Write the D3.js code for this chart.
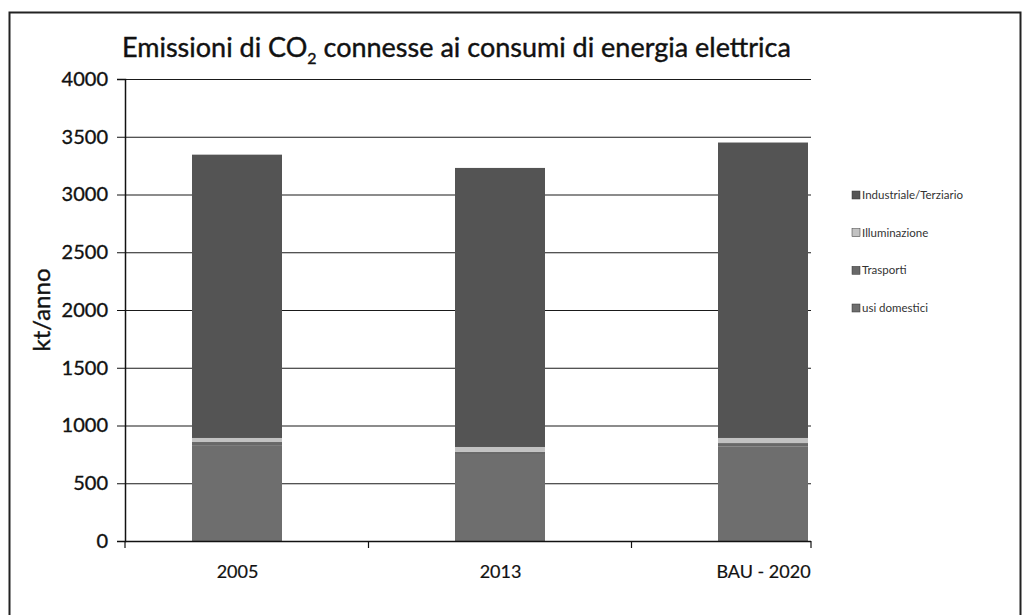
<!DOCTYPE html>
<html><head><meta charset="utf-8">
<script src="https://cdn.jsdelivr.net/npm/d3@7"></script>
<style>body{margin:0;background:#fff;}svg{display:block;}</style>
</head><body>
<svg id="c" width="1024" height="615"></svg>
<script>
const categories = ["2005", "2013", "BAU - 2020"];
const seriesNames = ["usi domestici", "Trasporti", "Illuminazione", "Industriale/Terziario"];
const usiDomestici = [830, 745, 820];
const trasporti = [27, 26, 28];
const illuminazione = [35, 43, 44];
const industrialeTerziario = [2453, 2416, 2558];
const yTicks = [0, 500, 1000, 1500, 2000, 2500, 3000, 3500, 4000];
const legendOrder = ["Industriale/Terziario", "Illuminazione", "Trasporti", "usi domestici"];
const colors = {"usi domestici":"#6e6e6e","Trasporti":"#686868","Illuminazione":"#c2c2c2","Industriale/Terziario":"#545454"};

const rows = categories.map((c,i)=>({cat:c,"usi domestici":usiDomestici[i],"Trasporti":trasporti[i],"Illuminazione":illuminazione[i],"Industriale/Terziario":industrialeTerziario[i]}));
const stack = d3.stack().keys(seriesNames)(rows);

const svg = d3.select("#c");
const font = "Lato, 'Open Sans', sans-serif";
const thick = (sel, w) => sel.attr("stroke","#111").attr("stroke-width",w || 0.45).attr("paint-order","stroke");

// outer frame
svg.append("rect").attr("x",9.5).attr("y",12.5).attr("width",1011).attr("height",620)
  .attr("fill","none").attr("stroke","#222").attr("stroke-width",2);

const y = d3.scaleLinear().domain([0,4000]).range([541,79]);
const x = d3.scalePoint().domain(categories).range([237,763]);
const barW = 90;
const plotL = 125, plotR = 811;

// gridlines
svg.append("g").selectAll("line").data(yTicks).join("line")
  .attr("x1",plotL).attr("x2",plotR).attr("y1",d=>y(d)+0.5).attr("y2",d=>y(d)+0.5)
  .attr("stroke","#1a1a1a").attr("stroke-width",1.2);

// bars
svg.append("g").selectAll("g").data(stack).join("g")
  .attr("fill",d=>colors[d.key])
  .selectAll("rect").data(d=>d).join("rect")
  .attr("x",d=>x(d.data.cat)-barW/2).attr("width",barW)
  .attr("y",d=>y(d[1])).attr("height",d=>y(d[0])-y(d[1]));

// y axis
const yAxis = d3.axisLeft(y).tickValues(yTicks).tickSize(8).tickPadding(9).tickFormat(d3.format("d"));
const ga = svg.append("g").attr("transform",`translate(${plotL},0)`).call(yAxis);
ga.select(".domain").attr("stroke","#111").attr("stroke-width",1.5);
ga.selectAll(".tick line").attr("stroke","#111");
ga.selectAll("text").attr("font-family",font).attr("font-size",20).attr("fill","#111").call(thick, 0.35);

// x axis
svg.append("line").attr("x1",plotL).attr("x2",plotR).attr("y1",y(0)+0.5).attr("y2",y(0)+0.5).attr("stroke","#111").attr("stroke-width",1.5);
const xa = d3.axisBottom(x).tickSize(0).tickPadding(24);
const gx = svg.append("g").attr("transform",`translate(0,${y(0)})`).call(xa);
gx.select(".domain").remove();
gx.selectAll("text").attr("font-family",font).attr("font-size",18).attr("fill","#111").call(thick, 0.2);
[plotL, (x(categories[0])+x(categories[1]))/2, (x(categories[1])+x(categories[2]))/2, plotR].forEach(t=>{
  svg.append("line").attr("x1",t).attr("x2",t).attr("y1",y(0)).attr("y2",y(0)+7).attr("stroke","#111").attr("stroke-width",1.2);
});

// title
const title = svg.append("text").attr("x",122).attr("y",57).attr("font-family",font).attr("font-size",27).attr("fill","#111").call(thick, 0.4);
title.append("tspan").text("Emissioni di CO");
title.append("tspan").attr("font-size",16).attr("dy",7).text("2");
title.append("tspan").attr("dy",-7).text(" connesse ai consumi  di energia elettrica");

// y label
svg.append("text").attr("transform","translate(50,310) rotate(-90)").attr("text-anchor","middle")
  .attr("font-family",font).attr("font-size",24).attr("fill","#111").call(thick, 0.4).text("kt/anno");

// legend
const legY = d3.scalePoint().domain(legendOrder).range([199,312]);
const lg = svg.append("g").selectAll("g").data(legendOrder).join("g")
  .attr("transform",d=>`translate(852,${legY(d)})`);
lg.append("rect").attr("x",0).attr("y",-8).attr("width",8).attr("height",8).attr("fill",d=>colors[d]).attr("stroke","#333").attr("stroke-width",0.5);
lg.append("text").attr("x",10).attr("y",0).attr("font-family",font).attr("font-size",11.5).attr("fill","#333").text(d=>d);
</script>
</body></html>
